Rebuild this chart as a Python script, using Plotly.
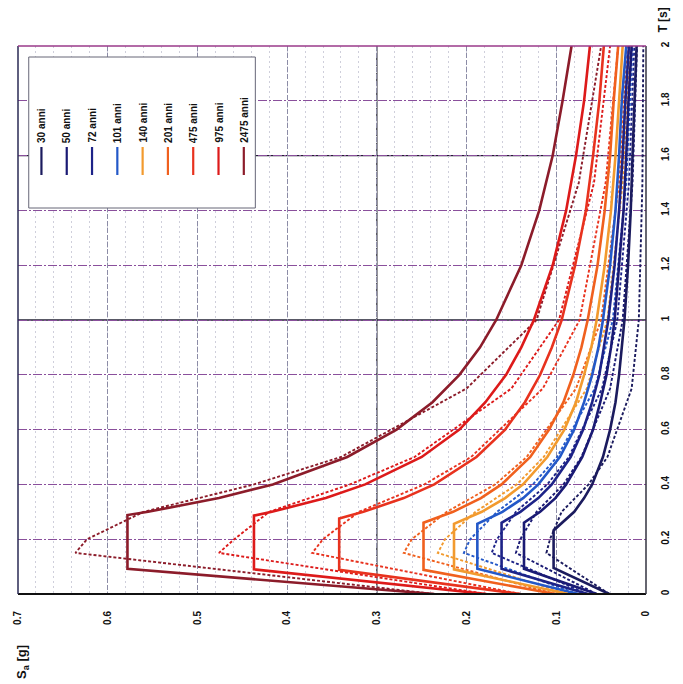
import plotly.graph_objects as go

# ---- spectral data -------------------------------------------------------
RETURN_PERIODS = [30, 50, 72, 101, 140, 201, 475, 975, 2475]
LABELS = ["30 anni", "50 anni", "72 anni", "101 anni", "140 anni",
          "201 anni", "475 anni", "975 anni", "2475 anni"]
COLORS = ["#1b1b5e", "#1a1a74", "#1d2388", "#2358c8", "#f29a2e",
          "#f0601e", "#e8321e", "#dd1a1a", "#8c1c2a"]

# design spectra: value at T=0, plateau value and plateau limits TB-TC
SA_T0 = [0.041, 0.055, 0.065, 0.076, 0.087, 0.101, 0.140, 0.178, 0.236]
SA_PLATEAU = [0.103, 0.136, 0.161, 0.188, 0.214, 0.248, 0.342, 0.437, 0.578]
T_B = [0.095, 0.092, 0.092, 0.092, 0.090, 0.088, 0.088, 0.090, 0.092]
T_C = [0.232, 0.260, 0.260, 0.256, 0.256, 0.260, 0.276, 0.286, 0.288]

# descending branch of the design spectra
T_DECAY = [0.3, 0.35, 0.4, 0.5, 0.6, 0.7, 0.8, 0.9, 1.0, 1.2, 1.4, 1.6, 1.8, 2.0]
SA_DECAY_30 = [0.080, 0.069, 0.060, 0.048, 0.040, 0.034, 0.030, 0.027, 0.024, 0.020, 0.017, 0.015, 0.013, 0.0105]
SA_DECAY_50 = [0.118, 0.101, 0.089, 0.071, 0.059, 0.051, 0.044, 0.039, 0.035, 0.030, 0.025, 0.022, 0.0195, 0.016]
SA_DECAY_72 = [0.140, 0.120, 0.105, 0.084, 0.070, 0.060, 0.052, 0.047, 0.042, 0.035, 0.030, 0.026, 0.023, 0.019]
SA_DECAY_101 = [0.160, 0.137, 0.120, 0.096, 0.080, 0.069, 0.060, 0.053, 0.048, 0.040, 0.034, 0.030, 0.027, 0.022]
SA_DECAY_140 = [0.183, 0.157, 0.137, 0.110, 0.091, 0.078, 0.069, 0.061, 0.055, 0.046, 0.039, 0.034, 0.030, 0.026]
SA_DECAY_201 = [0.215, 0.184, 0.161, 0.129, 0.108, 0.092, 0.081, 0.072, 0.065, 0.054, 0.046, 0.040, 0.036, 0.031]
SA_DECAY_475 = [0.315, 0.270, 0.236, 0.189, 0.157, 0.135, 0.118, 0.105, 0.094, 0.079, 0.067, 0.059, 0.052, 0.047]
SA_DECAY_975 = [0.417, 0.357, 0.313, 0.250, 0.208, 0.179, 0.156, 0.139, 0.125, 0.104, 0.089, 0.078, 0.069, 0.0625]
SA_DECAY_2475 = [0.555, 0.476, 0.416, 0.333, 0.278, 0.238, 0.208, 0.185, 0.167, 0.139, 0.119, 0.104, 0.093, 0.083]

# uniform hazard spectra (dashed)
T_UHS = [0, 0.1, 0.15, 0.2, 0.3, 0.4, 0.5, 0.75, 1.0, 1.5, 2.0]
UHS_30 = [0.041, 0.087, 0.111, 0.107, 0.094, 0.064, 0.043, 0.016, 0.008, 0.004, 0.003]
UHS_50 = [0.055, 0.114, 0.145, 0.140, 0.122, 0.092, 0.072, 0.040, 0.026, 0.015, 0.010]
UHS_72 = [0.065, 0.136, 0.172, 0.166, 0.145, 0.110, 0.086, 0.049, 0.032, 0.019, 0.013]
UHS_101 = [0.076, 0.160, 0.203, 0.196, 0.166, 0.126, 0.099, 0.057, 0.037, 0.022, 0.015]
UHS_140 = [0.087, 0.183, 0.232, 0.224, 0.190, 0.144, 0.114, 0.066, 0.043, 0.026, 0.018]
UHS_201 = [0.101, 0.213, 0.270, 0.261, 0.222, 0.168, 0.133, 0.078, 0.050, 0.030, 0.021]
UHS_475 = [0.140, 0.293, 0.372, 0.360, 0.320, 0.247, 0.195, 0.115, 0.074, 0.045, 0.031]
UHS_975 = [0.178, 0.375, 0.476, 0.459, 0.420, 0.330, 0.258, 0.150, 0.097, 0.058, 0.040]
UHS_2475 = [0.236, 0.500, 0.636, 0.623, 0.560, 0.437, 0.340, 0.200, 0.122, 0.075, 0.050]

SA_TICKS = [0, 0.1, 0.2, 0.3, 0.4, 0.5, 0.6, 0.7]
SA_TICK_TEXT = ["0", "0.1", "0.2", "0.3", "0.4", "0.5", "0.6", "0.7"]

DECAYS = [SA_DECAY_30, SA_DECAY_50, SA_DECAY_72, SA_DECAY_101, SA_DECAY_140,
          SA_DECAY_201, SA_DECAY_475, SA_DECAY_975, SA_DECAY_2475]
UHS = [UHS_30, UHS_50, UHS_72, UHS_101, UHS_140, UHS_201, UHS_475, UHS_975, UHS_2475]

# ---- layout geometry (pixels) -------------------------------------------
W, H = 683, 684
PL, PR, PT, PB = 12, 655, 46, 594      # plot area edges
FONT = "Liberation Sans"


def px(x):
    return (x - PL) / (PR - PL)


def py(y):
    return (PB - y) / (PB - PT)


fig = go.Figure()

# dashed hazard spectra underneath, design spectra on top
for i in range(len(RETURN_PERIODS)):
    fig.add_trace(go.Scatter(
        x=UHS[i], y=T_UHS, mode="lines",
        line=dict(color=COLORS[i], width=1.9, dash="3px,2px"),
        showlegend=False, hoverinfo="skip"))
for i in range(len(RETURN_PERIODS)):
    t_vals = [0, T_B[i], T_C[i]] + T_DECAY
    s_vals = [SA_T0[i], SA_PLATEAU[i], SA_PLATEAU[i]] + DECAYS[i]
    fig.add_trace(go.Scatter(
        x=s_vals, y=t_vals, mode="lines",
        line=dict(color=COLORS[i], width=2.6),
        showlegend=False, hoverinfo="skip"))

shapes = []
# heavier reference lines of the grid
for tv in [1.0, 1.6]:
    shapes.append(dict(type="line", xref="paper", yref="y", x0=0, x1=1, y0=tv, y1=tv,
                       line=dict(color="#222233", width=1.3), layer="between"))
shapes.append(dict(type="line", xref="x", yref="paper", x0=0.3, x1=0.3, y0=0, y1=1,
                   line=dict(color="#2a2a35", width=1.3), layer="between"))
# frame
shapes.append(dict(type="line", xref="paper", yref="paper", x0=0, x1=1, y0=0, y1=0,
                   line=dict(color="#111111", width=2.2)))
shapes.append(dict(type="line", xref="paper", yref="paper", x0=0, x1=0, y0=0, y1=1,
                   line=dict(color="#2a2a55", width=1.5)))
shapes.append(dict(type="line", xref="paper", yref="paper", x0=1, x1=1, y0=0, y1=1,
                   line=dict(color="#333340", width=1.5)))
shapes.append(dict(type="line", xref="paper", yref="paper", x0=0, x1=1, y0=1, y1=1,
                   line=dict(color="#9a3a8a", width=1.5)))

# legend box
shapes.append(dict(type="rect", xref="paper", yref="paper",
                   x0=px(23), x1=px(255), y0=py(208), y1=py(57),
                   fillcolor="white", line=dict(color="#666677", width=1)))
annotations = []
for i, lab in enumerate(LABELS):
    lx = 36 + i * 25.9
    shapes.append(dict(type="line", xref="paper", yref="paper",
                       x0=px(lx), x1=px(lx), y0=py(175), y1=py(147),
                       line=dict(color=COLORS[i], width=2.2)))
    annotations.append(dict(xref="paper", yref="paper", x=px(lx), y=py(145),
                            text=lab, showarrow=False, textangle=-90,
                            xanchor="center", yanchor="bottom",
                            font=dict(family=FONT, size=10, color="#111111", weight="bold")))

# axis titles
annotations.append(dict(xref="paper", yref="paper", x=px(16), y=py(662),
                        text="S<sub>a</sub> [g]", showarrow=False, textangle=-90,
                        xanchor="center", yanchor="middle",
                        font=dict(family=FONT, size=13, color="#111111", weight="bold")))
annotations.append(dict(xref="paper", yref="paper", x=px(672), y=py(20),
                        text="T [s]", showarrow=False, textangle=-90,
                        xanchor="center", yanchor="middle",
                        font=dict(family=FONT, size=12, color="#111111", weight="bold")))

fig.update_layout(
    width=W, height=H,
    margin=dict(l=PL, r=W - PR, t=PT, b=H - PB),
    paper_bgcolor="white", plot_bgcolor="white",
    shapes=shapes, annotations=annotations,
    showlegend=False,
    xaxis=dict(range=[0.7, 0], tickvals=SA_TICKS, ticktext=SA_TICK_TEXT,
               tickangle=-90, ticks="", ticklabelstandoff=14,
               tickfont=dict(family=FONT, size=10, color="#111111", weight="bold"),
               showgrid=True, gridcolor="#8c8ca6", griddash="5px,2px", gridwidth=1,
               minor=dict(dtick=0.02, showgrid=True, gridcolor="#cfcfdb",
                          griddash="2px,3px", gridwidth=1),
               zeroline=False, showline=False),
    yaxis=dict(range=[0, 2], dtick=0.2, side="right",
               tickangle=-90, ticks="", ticklabelstandoff=12,
               tickfont=dict(family=FONT, size=10, color="#111111", weight="bold"),
               showgrid=True, gridcolor="#8a4f9c", griddash="9px,2px,2px,2px", gridwidth=1.2,
               zeroline=False, showline=False),
)

fig.write_html("out.html")
